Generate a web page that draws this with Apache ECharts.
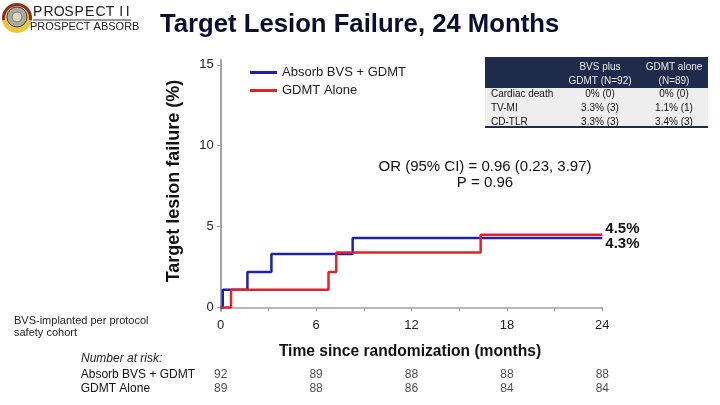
<!DOCTYPE html>
<html><head><meta charset="utf-8">
<script src="https://cdn.jsdelivr.net/npm/echarts@6/dist/echarts.min.js"></script>
<style>html,body{margin:0;padding:0;background:#fff}#c{width:720px;height:405px}</style>
</head><body><div id="c"></div>
<script>
const seriesNames = ['Absorb BVS + GDMT', 'GDMT Alone'];
const bvsSteps = [[0, 0], [0.13, 1.1], [1.68, 2.2], [3.19, 3.3], [8.3, 4.3], [24, 4.3]];
const gdmtSteps = [[0, 0], [0.65, 1.1], [6.78, 2.2], [7.27, 3.4], [16.35, 4.5], [24, 4.5]];
const endLabels = ['4.3%', '4.5%'];
const yTicks = [0, 5, 10, 15];
const riskTimes = [0, 6, 12, 18, 24];
const riskBVS = [92, 89, 88, 88, 88];
const riskGDMT = [89, 88, 86, 84, 84];
const tableHeadBVS = ['BVS plus', 'GDMT (N=92)'];
const tableHeadGDMT = ['GDMT alone', '(N=89)'];
const tableRows = ['Cardiac death', 'TV-MI', 'CD-TLR'];
const tableBVS = ['0% (0)', '3.3% (3)', '3.3% (3)'];
const tableGDMT = ['0% (0)', '1.1% (1)', '3.4% (3)'];
const statLines = ['OR (95% CI) = 0.96 (0.23, 3.97)', 'P = 0.96'];
const titleText = 'Target Lesion Failure, 24 Months';
const yName = 'Target lesion failure (%)';
const xName = 'Time since randomization (months)';
const footnote = ['BVS-implanted per protocol', 'safety cohort'];
const logoTop = 'PROSPECT II';
const logoBottom = 'PROSPECT ABSORB';

const FONT = '"Liberation Sans", Arial, sans-serif';
const BLUE = '#1c22ad', RED = '#e4222c', AX = '#a3a3a3', NAVY = '#1e2b4a';

const chart = echarts.init(document.getElementById('c'), null, {renderer: 'canvas'});

const graphics = [];
// title
graphics.push({type: 'text', left: 160, top: 12, style: {text: titleText, font: 'bold 25.7px ' + FONT, fill: '#0c0c2e'}});
// logo
graphics.push({type: 'circle', shape: {cx: 17, cy: 18, r: 15}, style: {fill: '#ecc63a'}});
graphics.push({type: 'arc', shape: {cx: 17, cy: 18, r: 13.5, startAngle: Math.PI * 0.95, endAngle: Math.PI * 2.05}, style: {stroke: '#8e2c2c', lineWidth: 3, fill: null}});
graphics.push({type: 'circle', shape: {cx: 17, cy: 17, r: 10}, style: {fill: '#a9a9a9', stroke: '#444', lineWidth: 1}});
graphics.push({type: 'circle', shape: {cx: 17, cy: 17, r: 5}, style: {fill: '#ddd6b8', stroke: '#666', lineWidth: 0.8}});
{
  let x = 33;
  logoTop.split('').forEach(ch => {
    if (ch === ' ') { x += 3; return; }
    graphics.push({type: 'text', x: x, y: 12, style: {text: ch, font: '14px ' + FONT, fill: '#222', align: 'left', verticalAlign: 'middle'}});
    x += (ch === 'I') ? 6.5 : 10.4;
  });
}
graphics.push({type: 'line', shape: {x1: 33, y1: 20, x2: 131, y2: 20}, style: {stroke: '#333', lineWidth: 1}});
graphics.push({type: 'text', x: 30, y: 27, style: {text: logoBottom, font: '11px ' + FONT, fill: '#222', align: 'left', verticalAlign: 'middle'}});
// table
const tx = 485, tw = 223;
graphics.push({type: 'rect', shape: {x: tx, y: 57, width: tw, height: 31}, style: {fill: NAVY}});
graphics.push({type: 'rect', shape: {x: tx, y: 88, width: tw, height: 39}, style: {fill: '#eeeeee'}});
graphics.push({type: 'line', shape: {x1: tx, y1: 127, x2: tx + tw, y2: 127}, style: {stroke: NAVY, lineWidth: 2}});
tableHeadBVS.forEach((t, i) => graphics.push({type: 'text', x: 600, y: 67 + i * 14, style: {text: t, font: '10px ' + FONT, fill: '#e8e8e8', align: 'center', verticalAlign: 'middle'}}));
tableHeadGDMT.forEach((t, i) => graphics.push({type: 'text', x: 674, y: 67 + i * 14, style: {text: t, font: '10px ' + FONT, fill: '#e8e8e8', align: 'center', verticalAlign: 'middle'}}));
tableRows.forEach((t, i) => {
  const y = 94.5 + i * 14;
  graphics.push({type: 'text', x: 491, y: y, style: {text: t, font: '10px ' + FONT, fill: '#111', align: 'left', verticalAlign: 'middle'}});
  graphics.push({type: 'text', x: 600, y: y, style: {text: tableBVS[i], font: '10px ' + FONT, fill: '#111', align: 'center', verticalAlign: 'middle'}});
  graphics.push({type: 'text', x: 674, y: y, style: {text: tableGDMT[i], font: '10px ' + FONT, fill: '#111', align: 'center', verticalAlign: 'middle'}});
});
// stats
statLines.forEach((t, i) => graphics.push({type: 'text', x: 485, y: 167 + i * 16, style: {text: t, font: '15px ' + FONT, fill: '#111', align: 'center', verticalAlign: 'middle'}}));
// axis names
graphics.push({type: 'text', x: 174, y: 181, rotation: Math.PI / 2, style: {text: yName, font: 'bold 18px ' + FONT, fill: '#111', align: 'center', verticalAlign: 'middle'}});
graphics.push({type: 'text', x: 410, y: 352, style: {text: xName, font: 'bold 15.6px ' + FONT, fill: '#111', align: 'center', verticalAlign: 'middle'}});
// footnote
footnote.forEach((t, i) => graphics.push({type: 'text', x: 14, y: 321 + i * 12, style: {text: t, font: '11px ' + FONT, fill: '#222', align: 'left', verticalAlign: 'middle'}}));
graphics.push({type: 'text', x: 81, y: 359, style: {text: 'Number at risk:', font: 'italic 12px ' + FONT, fill: '#222', align: 'left', verticalAlign: 'middle'}});

const option = {
  animation: false,
  backgroundColor: '#fff',
  textStyle: {fontFamily: FONT},
  grid: [
    {left: 220.7, right: 117.7, top: 60, bottom: 94.3},
    {left: 220.7, right: 117.7, top: 368, height: 28}
  ],
  legend: {
    data: seriesNames, orient: 'vertical', left: 245, top: 61,
    icon: 'rect', itemWidth: 27, itemHeight: 3, itemGap: 5,
    textStyle: {fontSize: 13, color: '#222', fontFamily: FONT}
  },
  xAxis: [
    {type: 'value', gridIndex: 0, min: 0, max: 24, interval: 3,
     axisLine: {show: true, lineStyle: {color: AX, width: 1.5}},
     axisTick: {show: true, length: 4, lineStyle: {color: AX, width: 1.2}},
     axisLabel: {formatter: v => (v % 6 === 0 ? String(v) : ''), color: '#222', fontSize: 13, margin: 8, fontFamily: FONT},
     splitLine: {show: false}},
    {type: 'value', gridIndex: 1, min: 0, max: 24, show: false}
  ],
  yAxis: [
    {type: 'value', gridIndex: 0, min: -0.2, max: 15.3,
     axisLine: {show: true, lineStyle: {color: AX, width: 2}},
     axisTick: {show: true, length: 4, customValues: yTicks, lineStyle: {color: AX, width: 1.2}},
     axisLabel: {customValues: yTicks, color: '#222', fontSize: 13, margin: 7, fontFamily: FONT},
     splitLine: {show: false}},
    {type: 'category', gridIndex: 1, data: seriesNames, inverse: true,
     axisLine: {show: false}, axisTick: {show: false},
     axisLabel: {interval: 0, align: 'left', margin: 140, fontSize: 12, color: '#111', fontFamily: FONT}}
  ],
  series: [
    {type: 'line', name: seriesNames[0], step: 'end', data: bvsSteps, symbol: 'none',
     lineStyle: {color: BLUE, width: 2.5}, itemStyle: {color: BLUE},
     endLabel: {show: true, formatter: endLabels[0], fontWeight: 'bold', fontSize: 15, color: '#111', distance: 3, offset: [0, 6], fontFamily: FONT}},
    {type: 'line', name: seriesNames[1], step: 'end', data: gdmtSteps, symbol: 'none',
     lineStyle: {color: RED, width: 2.5}, itemStyle: {color: RED},
     endLabel: {show: true, formatter: endLabels[1], fontWeight: 'bold', fontSize: 15, color: '#111', distance: 3, offset: [0, -6], fontFamily: FONT}},
    {type: 'scatter', xAxisIndex: 1, yAxisIndex: 1, symbolSize: 1, itemStyle: {color: 'transparent'},
     data: riskTimes.map((t, i) => [t, 0, riskBVS[i]]).concat(riskTimes.map((t, i) => [t, 1, riskGDMT[i]])),
     label: {show: true, position: 'inside', formatter: p => String(p.value[2]), color: '#222', fontSize: 12, fontFamily: FONT},
     silent: true}
  ],
  graphic: graphics
};
chart.setOption(option);
</script></body></html>
